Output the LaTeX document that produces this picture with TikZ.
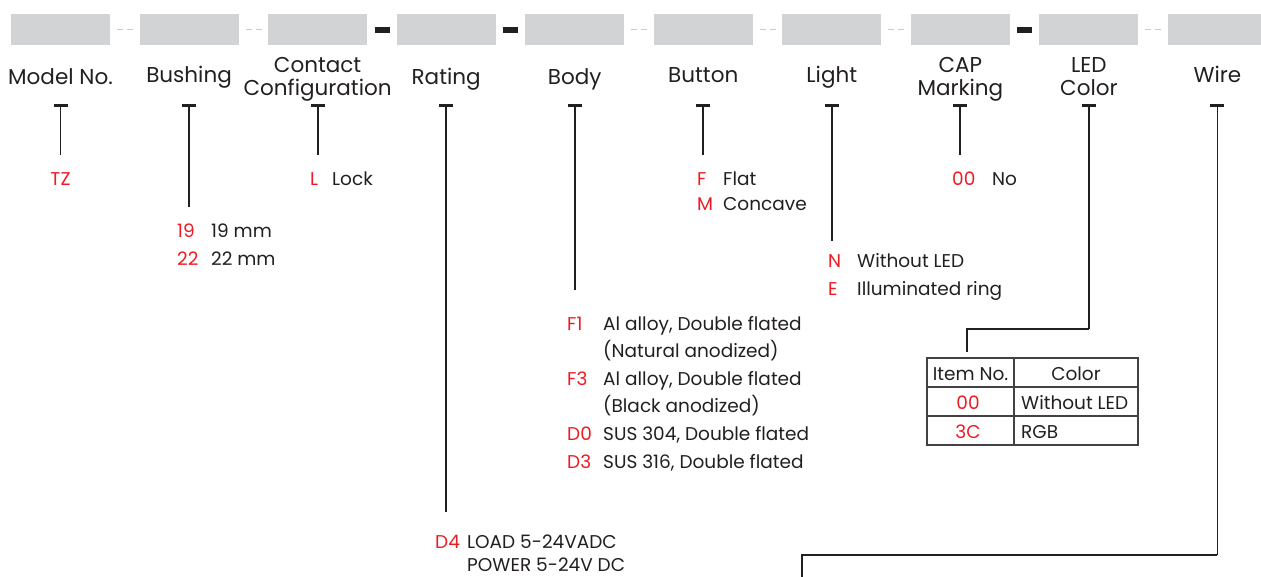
\documentclass[tikz,border=0pt]{standalone}
\usepackage{fontspec}
\setmainfont{Poppins}
\usetikzlibrary{positioning}

\definecolor{slotgray}{HTML}{D1D3D4}
\definecolor{codered}{HTML}{ED1C24}
\definecolor{ink}{HTML}{231F20}

\tikzset{
  slot/.style={fill=slotgray, minimum width=99pt, minimum height=31pt, inner sep=0pt},
  heading/.style={font=\fontsize{21.5}{22.5}\selectfont, text=ink, align=center, inner sep=0pt, anchor=base},
  code/.style={font=\fontsize{18.5}{20}\selectfont, text=codered, inner sep=0pt, anchor=base west},
  desc/.style={font=\fontsize{18.5}{20}\selectfont, text=ink, inner sep=0pt, anchor=base west},
  cell/.style={font=\fontsize{18.5}{20}\selectfont, text=ink, inner sep=0pt, anchor=base},
  tick/.style={line width=3pt, ink},
  lead/.style={line width=1.8pt, ink},
  grid/.style={line width=1.2pt, ink!85},
}

\begin{document}
\begin{tikzpicture}[x=1pt,y=-1pt]
\useasboundingbox (0,0) rectangle (1261,576);

% --- Slots of the part number ---
\foreach \i in {0,...,9}
  \node[slot] (slot\i) at (60.5+128.55*\i,29.5) {};

% gray separators
\foreach \i in {0,1,4,5,6,8}
  \draw[slotgray!85!black!70, line width=1pt, dash pattern=on 6pt off 4pt] (117+128.55*\i,29.5) -- (133+128.55*\i,29.5);

% black separators
\foreach \i in {2,3,7}
  \fill[ink] (117.5+128.55*\i,26.5) rectangle (132.5+128.55*\i,32.5);

% --- Headings (base = last line) ---
\node[heading] (hmodel)   at (60.5,84)   {Model No.};
\node[heading] (hbush)    at (189.05,82) {Bushing};
\node[heading] (hcontact) at (317.6,95)  {Contact\\Configuration};
\node[heading] (hrating)  at (446.15,84) {Rating};
\node[heading] (hbody)    at (574.7,84)  {Body};
\node[heading] (hbutton)  at (703.25,82) {Button};
\node[heading] (hlight)   at (831.8,82)  {Light};
\node[heading] (hcap)     at (960.35,95) {CAP\\Marking};
\node[heading] (hled)     at (1088.9,95) {LED\\Color};
\node[heading] (hwire)    at (1217.45,82) {Wire};

% --- Ticks and leads ---
\foreach \n/\i/\e in {model/0/155, bush/1/207, contact/2/155, rating/3/512,
                      body/4/290, button/5/155, light/6/241, cap/7/155,
                      led/8/329, wire/9/555} {
  \coordinate (t\n) at (60.5+128.55*\i,105);
  \coordinate (e\n) at (60.5+128.55*\i,\e);
  \draw[tick] ([xshift=-7pt]t\n) -- ([xshift=7pt]t\n);
  \draw[lead] (t\n) -- (e\n);
}

% LED lead bends to the table, wire lead runs off the bottom
\coordinate (ledin) at (967,352);
\coordinate (wireout) at (802,578);
\draw[lead] (eled) -| (ledin);
\draw[lead] (ewire) -| (wireout);

% --- Options ---
\node[code, anchor=base] (cTZ) at (60.5,185) {TZ};

\node[code] (c19) at (177,237) {19};
\node[desc] (d19) at (211,237) {19 mm};
\node[code] (c22) at (177,265) {22};
\node[desc] (d22) at (211,265) {22 mm};

\node[code] (cL) at (310,185) {L};
\node[desc] (dL) at (332,185) {Lock};

\node[code] (cD4) at (435,548) {D4};
\node[desc] (dD4) at (467,548) {LOAD 5-24VADC};
\node[desc] (dD4b) at (467,571) {POWER 5-24V DC};

\node[code] (cF1) at (567,330) {F1};
\node[desc] (dF1) at (603,330) {Al alloy, Double flated};
\node[desc] (dF1b) at (603,357) {(Natural anodized)};
\node[code] (cF3) at (567,385) {F3};
\node[desc] (dF3) at (603,385) {Al alloy, Double flated};
\node[desc] (dF3b) at (603,412) {(Black anodized)};
\node[code] (cD0) at (567,440) {D0};
\node[desc] (dD0) at (603,440) {SUS 304, Double flated};
\node[code] (cD3) at (567,468) {D3};
\node[desc] (dD3) at (603,468) {SUS 316, Double flated};

\node[code] (cF) at (697,185) {F};
\node[desc] (dF) at (723,185) {Flat};
\node[code] (cM) at (697,210) {M};
\node[desc] (dM) at (723,210) {Concave};

\node[code] (cN) at (828,267) {N};
\node[desc] (dN) at (857,267) {Without LED};
\node[code] (cE) at (828,295) {E};
\node[desc] (dE) at (857,295) {Illuminated ring};

\node[code] (c00) at (952,185) {00};
\node[desc] (d00) at (992,185) {No};

% --- LED colour table ---
\draw[grid] (927,358) rectangle (1138,445);
\draw[grid] (927,387) -- (1138,387);
\draw[grid] (927,416) -- (1138,416);
\draw[grid] (1014,358) -- (1014,445);

\node[cell] (titem)  at (970.5,380) {Item No.};
\node[cell] (tcolor) at (1076,380)  {Color};
\node[cell, text=codered] (t00) at (968,409) {00};
\node[desc] (tnone) at (1021,409) {Without LED};
\node[cell, text=codered] (t3C) at (968,438) {3C};
\node[desc] (trgb) at (1021,438) {RGB};

\end{tikzpicture}
\end{document}
